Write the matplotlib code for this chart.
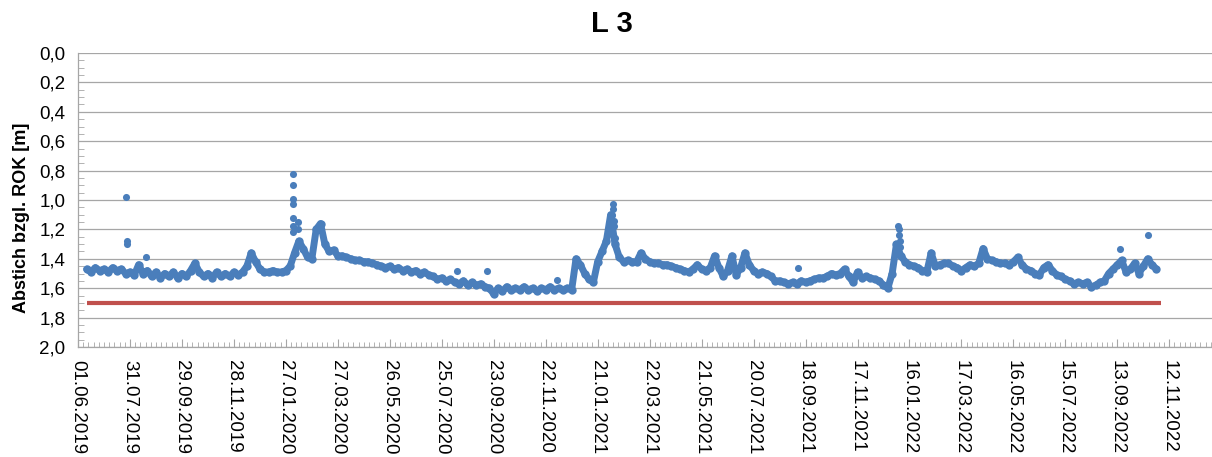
import numpy as np
import pandas as pd
import matplotlib
matplotlib.use("Agg")
import matplotlib.pyplot as plt
import matplotlib.dates as mdates
from matplotlib.ticker import MultipleLocator, FixedLocator, FuncFormatter

plt.rcParams['font.family'] = ['Liberation Sans', 'DejaVu Sans']

# water level readings (Abstich in m), one every 5 days from 11.06.2019
first_reading = '2019-06-11'
abstich = [
    1.47, 1.49, 1.46, 1.48, 1.47, 1.49, 1.46, 1.48, 1.47, 1.50,
    1.49, 1.51, 1.44, 1.50, 1.48, 1.52, 1.49, 1.53, 1.50, 1.52,
    1.49, 1.53, 1.50, 1.52, 1.48, 1.43, 1.49, 1.52, 1.50, 1.53,
    1.49, 1.52, 1.50, 1.52, 1.49, 1.51, 1.49, 1.45, 1.36, 1.42,
    1.47, 1.49, 1.49, 1.48, 1.49, 1.49, 1.48, 1.45, 1.36, 1.28,
    1.33, 1.39, 1.40, 1.20, 1.16, 1.30, 1.35, 1.34, 1.38, 1.38,
    1.39, 1.40, 1.41, 1.41, 1.42, 1.42, 1.43, 1.44, 1.45, 1.46,
    1.45, 1.47, 1.46, 1.48, 1.47, 1.49, 1.48, 1.50, 1.49, 1.51,
    1.52, 1.54, 1.53, 1.55, 1.54, 1.56, 1.57, 1.55, 1.58, 1.56,
    1.58, 1.57, 1.59, 1.60, 1.64, 1.60, 1.62, 1.59, 1.61, 1.60,
    1.61, 1.59, 1.61, 1.60, 1.62, 1.60, 1.61, 1.59, 1.61, 1.60,
    1.61, 1.60, 1.61, 1.40, 1.44, 1.50, 1.54, 1.56, 1.42, 1.35,
    1.28, 1.10, 1.30, 1.39, 1.42, 1.41, 1.42, 1.42, 1.36, 1.40,
    1.42, 1.43, 1.43, 1.44, 1.44, 1.45, 1.46, 1.47, 1.48, 1.49,
    1.47, 1.44, 1.47, 1.48, 1.46, 1.38, 1.46, 1.52, 1.48, 1.38,
    1.51, 1.46, 1.36, 1.44, 1.48, 1.50, 1.49, 1.50, 1.52, 1.55,
    1.55, 1.56, 1.57, 1.56, 1.57, 1.55, 1.56, 1.55, 1.54, 1.53,
    1.53, 1.52, 1.50, 1.51, 1.50, 1.47, 1.52, 1.56, 1.49, 1.53,
    1.52, 1.53, 1.54, 1.55, 1.58, 1.60, 1.50, 1.30, 1.38, 1.42,
    1.44, 1.45, 1.46, 1.48, 1.49, 1.36, 1.45, 1.44, 1.43, 1.43,
    1.45, 1.46, 1.48, 1.46, 1.44, 1.45, 1.43, 1.33, 1.40, 1.41,
    1.42, 1.43, 1.43, 1.44, 1.42, 1.39, 1.44, 1.47, 1.48, 1.50,
    1.51, 1.46, 1.44, 1.48, 1.51, 1.52, 1.54, 1.55, 1.57, 1.56,
    1.57, 1.56, 1.59, 1.58, 1.56, 1.55, 1.50, 1.47, 1.44, 1.41,
    1.49, 1.47, 1.43, 1.50, 1.45, 1.40, 1.44, 1.47,
]

# single readings outside the 5-day grid (peaks and outliers)
peak_dates = [
    '2019-07-26', '2019-07-27', '2019-07-28', '2019-08-18',
    '2020-02-04', '2020-02-04', '2020-02-04', '2020-02-04', '2020-02-04', '2020-02-04', '2020-02-04',
    '2020-02-10', '2020-02-10',
    '2020-08-12', '2020-09-15', '2020-12-05',
    '2021-02-06', '2021-02-07', '2021-02-08', '2021-02-08', '2021-02-09', '2021-02-09', '2021-02-10',
    '2021-09-09',
    '2022-01-03', '2022-01-04', '2022-01-04', '2022-01-05', '2022-01-05',
    '2022-09-16', '2022-10-18',
]
peak_values = [
    0.98, 1.28, 1.30, 1.39,
    0.82, 0.90, 0.99, 1.03, 1.12, 1.18, 1.22,
    1.15, 1.20,
    1.48, 1.48, 1.545,
    1.22, 1.10, 1.03, 1.06, 1.14, 1.18, 1.26,
    1.465,
    1.18, 1.20, 1.24, 1.28, 1.32,
    1.335, 1.24,
]

# limit line
limit_value = 1.7
limit_start = '2019-06-11'
limit_end = '2022-11-02'

axis_start = pd.Timestamp('2019-06-01')
axis_days = 1309.3

blue = '#4A7EBB'
red = '#C0504D'
grey = '#A6A6A6'

dates = pd.date_range(first_reading, periods=len(abstich), freq='5D')

fig = plt.figure(figsize=(12.12, 4.57), dpi=100)
ax = fig.add_axes([78 / 1212, 1 - 347 / 457, 1 - 78 / 1212, (347 - 53) / 457])

ax.plot(dates, abstich, color=blue, linewidth=5.0, marker='o', markersize=6.0,
        markeredgewidth=0, solid_joinstyle='round', solid_capstyle='round', zorder=3)
ax.scatter(pd.to_datetime(peak_dates), peak_values, s=26, color=blue, linewidths=0, zorder=3)
ax.hlines(limit_value, pd.Timestamp(limit_start), pd.Timestamp(limit_end),
          color=red, linewidth=3.0, zorder=2)

x0 = mdates.date2num(axis_start)
ax.set_xlim(x0, x0 + axis_days)
ax.set_ylim(2.0, 0.0)

ax.xaxis.set_major_locator(FixedLocator(np.arange(x0, x0 + axis_days, 60)))
ax.xaxis.set_minor_locator(FixedLocator(np.arange(x0, x0 + axis_days, 6)))
ax.xaxis.set_major_formatter(mdates.DateFormatter('%d.%m.%Y'))
ax.yaxis.set_major_locator(MultipleLocator(0.2))
ax.yaxis.set_minor_locator(MultipleLocator(0.05))
ax.yaxis.set_major_formatter(FuncFormatter(lambda v, p: f"{v:.1f}".replace('.', ',')))

ax.tick_params(axis='x', which='major', direction='in', length=6, color=grey,
               labelsize=13.5, pad=9, labelrotation=-90)
ax.tick_params(axis='x', which='minor', direction='in', length=3.5, color=grey)
ax.tick_params(axis='y', which='major', direction='in', length=0, color=grey,
               labelsize=13.5, pad=9)
ax.tick_params(axis='y', which='minor', direction='in', length=4, color=grey)
for lab in ax.get_xticklabels():
    lab.set_verticalalignment('top')
    lab.set_horizontalalignment('center')

ax.grid(axis='y', which='major', color=grey, linewidth=0.9, zorder=0)
ax.set_axisbelow(True)
for side in ['top', 'right']:
    ax.spines[side].set_visible(False)
for side in ['left', 'bottom']:
    ax.spines[side].set_color(grey)
    ax.spines[side].set_linewidth(0.9)

fig.text(21 / 1212, 1 - 218 / 457, 'Abstich bzgl. ROK [m]', rotation=90,
         ha='center', va='center', fontsize=13, fontweight='bold')
fig.text(612 / 1212, 1 - 24 / 457, 'L 3', ha='center', va='center',
         fontsize=21, fontweight='bold')

plt.savefig('out.png', dpi=100)
